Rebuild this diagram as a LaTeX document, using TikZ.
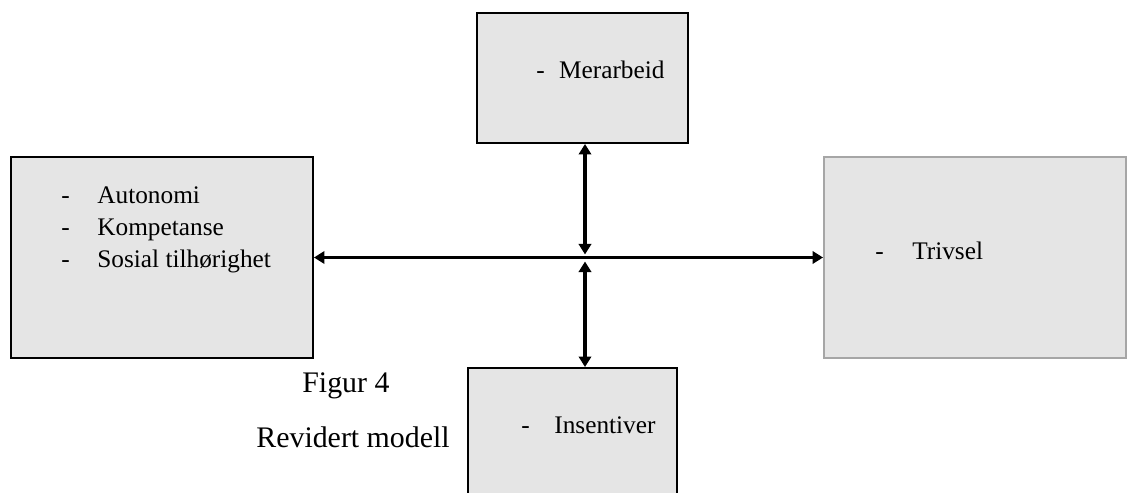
\documentclass[tikz,border=0pt]{standalone}
\usepackage{fontspec}
\setmainfont{Liberation Serif}
\usetikzlibrary{arrows.meta, positioning}
\definecolor{boxgray}{HTML}{E5E5E5}
\definecolor{edgegray}{HTML}{A6A6A6}
\newcommand{\strek}[2][20pt]{\makebox[#1][l]{-}#2}

\begin{document}
\begin{tikzpicture}[x=0.02cm, y=-0.02cm, >={Triangle[length=6pt, width=7pt]}]
    \tikzset{box/.style={draw, line width=1.1pt, fill=boxgray, inner sep=0pt},
        item/.style={inner sep=0pt, font=\fontsize{14.4}{18.2}\selectfont, align=left},
        caption/.style={inner sep=0pt, font=\fontsize{17}{20}\selectfont},
        link/.style={<->, line width=1.9pt}
    }
    \useasboundingbox (0,0) rectangle (1128,493);
    \clip (0,0) rectangle (1128,493);

    \node (Merarbeid) [box, minimum width=4.22cm, minimum height=2.6cm] at (582.5, 78) {};
    \node (Motivasjon) [box, minimum width=6.04cm, minimum height=4.02cm] at (162, 257.5) {};
    \node (Trivsel) [box, draw=edgegray, minimum width=6.04cm, minimum height=4.02cm] at (975, 257.5) {};
    \node (Insentiver) [box, minimum width=4.18cm, minimum height=2.8cm] at (572.5, 438) {};

    \node (Merarbeid-Tekst) [item, anchor=base west] at (536, 79) {\strek[13pt]{Merarbeid}};
    \node (Motivasjon-Tekst) [item, anchor=north west] at (61, 186)
        {\strek[20.5pt]{Autonomi}\\ \strek[20.5pt]{Kompetanse}\\ \strek[20.5pt]{Sosial tilhørighet}};
    \node (Trivsel-Tekst) [item, anchor=base west] at (875, 259) {\strek[21pt]{Trivsel}};
    \node (Insentiver-Tekst) [item, anchor=base west] at (521, 433) {\strek[18.8pt]{Insentiver}};

    \node (Figur) [caption, anchor=base west] at (302, 392) {Figur 4};
    \node (Modell) [caption, anchor=base east] at (450, 447) {Revidert modell};

    \coordinate (Kryss) at (585, 258);
    \draw [link] (Motivasjon.east) -- (Trivsel.west);
    \draw [link] (Merarbeid.south -| Kryss) -- ([yshift=2pt]Kryss);
    \draw [link] ([yshift=-2pt]Kryss) -- (Insentiver.north -| Kryss);
\end{tikzpicture}
\end{document}
